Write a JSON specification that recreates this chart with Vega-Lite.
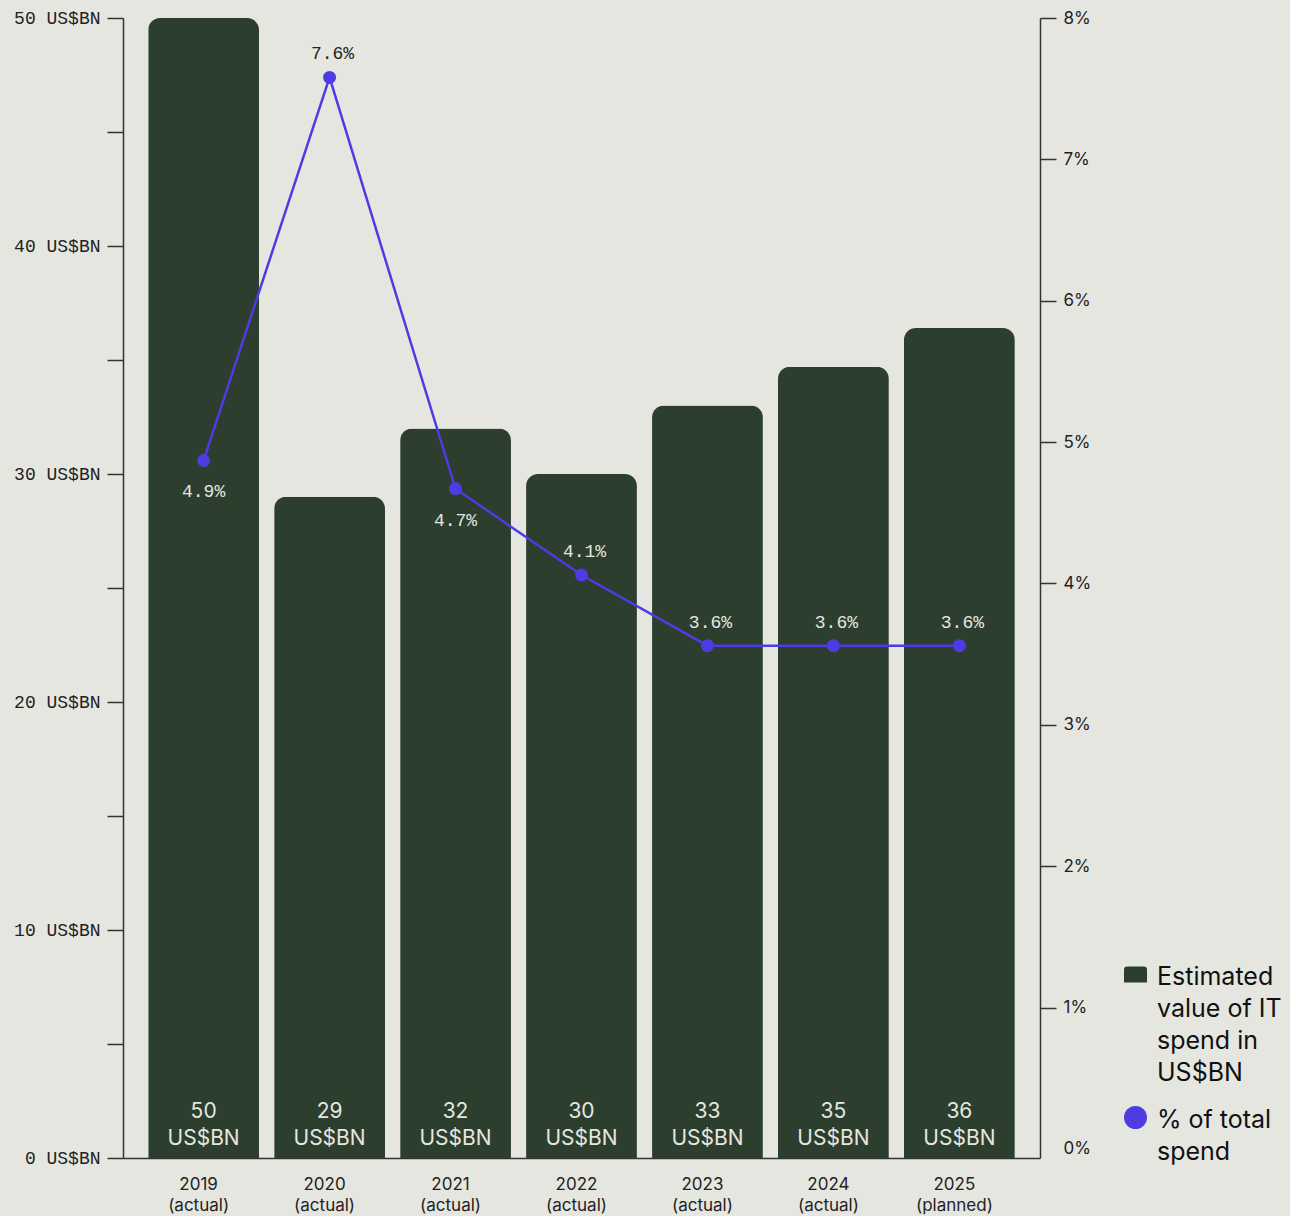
{
  "$schema": "https://vega.github.io/schema/vega-lite/v6.json",
  "width": 917,
  "height": 1140,
  "autosize": {"type": "none"},
  "padding": {"left": 123, "top": 18, "right": 250, "bottom": 58},
  "background": "#e6e6e0",
  "config": {
    "view": {"stroke": null},
    "font": "Inter",
    "axis": {"domainColor": "#333333", "tickColor": "#333333", "labelColor": "#222222", "grid": false, "domainWidth": 1.5, "tickWidth": 1.5}
  },
  "data": {
    "values": [
      {"year": "2019 (actual)", "spend": 50, "pct": 4.87},
      {"year": "2020 (actual)", "spend": 29, "pct": 7.58},
      {"year": "2021 (actual)", "spend": 32, "pct": 4.67},
      {"year": "2022 (actual)", "spend": 30, "pct": 4.06},
      {"year": "2023 (actual)", "spend": 33, "pct": 3.56},
      {"year": "2024 (actual)", "spend": 34.7, "pct": 3.56},
      {"year": "2025 (planned)", "spend": 36.4, "pct": 3.56}
    ]
  },
  "encoding": {
    "x": {
      "field": "year", "type": "nominal", "sort": null,
      "scale": {"paddingInner": 0.12, "paddingOuter": 0.2},
      "axis": {"title": null, "labelAngle": 0, "ticks": false, "labelPadding": 18, "labelFontSize": 17, "labelLineHeight": 21, "labelExpr": "split(datum.label, ' ')", "labelOffset": -5}
    }
  },
  "layer": [
    {
      "layer": [
        {
          "mark": {"type": "bar", "color": "#2c3e2d", "cornerRadiusTopLeft": 12, "cornerRadiusTopRight": 12},
          "encoding": {
            "y": {
              "field": "spend", "type": "quantitative",
              "scale": {"domain": [0, 50], "nice": false},
              "axis": {"title": null, "values": [0, 5, 10, 15, 20, 25, 30, 35, 40, 45, 50], "labelExpr": "datum.value % 10 === 0 ? datum.value + ' US$BN' : ''", "labelFont": "Liberation Mono", "labelFontSize": 18, "tickSize": 16, "labelPadding": 7}
            },
            "color": {
              "datum": "Estimated value of IT spend in US$BN", "type": "nominal",
              "scale": {"domain": ["Estimated value of IT spend in US$BN", "% of total spend"], "range": ["#2c3e2d", "#4f3be3"]},
              "legend": {
                "orient": "none", "legendX": 1000, "legendY": 944, "title": null, "padding": 0,
                "labelFontSize": 25, "labelFont": "Inter", "labelColor": "#111111", "labelLimit": 0,
                "symbolSize": 529, "labelOffset": 9, "labelBaseline": "top", "rowPadding": 19,
                "labelExpr": "datum.value == '% of total spend' ? ['% of total', 'spend'] : ['Estimated', 'value of IT', 'spend in', 'US$BN']",
                "encode": {
                  "symbols": {"update": {
                    "shape": {"signal": "datum.value == '% of total spend' ? 'circle' : 'M-1,0.7L-1,-0.42Q-1,-0.7 -0.72,-0.7L0.72,-0.7Q1,-0.7 1,-0.42L1,0.7Z'"},
                    "fill": {"scale": "color", "field": "value"},
                    "strokeWidth": {"value": 0},
                    "opacity": {"value": 1}
                  }},
                  "labels": {"update": {"lineHeight": {"value": 32}, "dy": {"value": -10}}}
                }
              }
            }
          }
        },
        {
          "mark": {"type": "text", "color": "#e6e6e0", "fontSize": 21, "baseline": "bottom", "dy": -36, "font": "Inter"},
          "encoding": {"y": {"datum": 0, "type": "quantitative"}, "text": {"field": "spend", "type": "quantitative", "format": ".0f"}}
        },
        {
          "mark": {"type": "text", "color": "#e6e6e0", "fontSize": 21, "baseline": "bottom", "dy": -9, "font": "Inter"},
          "encoding": {"y": {"datum": 0, "type": "quantitative"}, "text": {"value": "US$BN"}}
        }
      ]
    },
    {
      "transform": [{"calculate": "format(datum.pct, '.1f') + '%'", "as": "pctLabel"}],
      "encoding": {
        "y": {
          "field": "pct", "type": "quantitative",
          "scale": {"domain": [-0.064, 8], "nice": false, "zero": false},
          "axis": {"title": null, "orient": "right", "values": [0, 1, 2, 3, 4, 5, 6, 7, 8], "labelExpr": "datum.value + '%'", "labelFontSize": 17, "tickSize": 16, "labelPadding": 7, "tickOpacity": {"condition": {"test": "datum.value === 0", "value": 0}, "value": 1}}
        }
      },
      "layer": [
        {
          "mark": {"type": "line", "strokeWidth": 2.5},
          "encoding": {"color": {"datum": "% of total spend", "type": "nominal"}}
        },
        {
          "mark": {"type": "point", "filled": true, "size": 169, "opacity": 1},
          "encoding": {"color": {"datum": "% of total spend", "type": "nominal"}}
        },
        {
          "transform": [{"filter": "datum.year == '2019 (actual)' || datum.year == '2021 (actual)'"}],
          "mark": {"type": "text", "font": "Liberation Mono", "fontSize": 18, "dy": 32, "color": "#e6e6e0"},
          "encoding": {"text": {"field": "pctLabel", "type": "nominal"}}
        },
        {
          "transform": [{"filter": "datum.year != '2019 (actual)' && datum.year != '2021 (actual)'"}],
          "mark": {"type": "text", "font": "Liberation Mono", "fontSize": 18, "dy": -23, "dx": 3},
          "encoding": {
            "text": {"field": "pctLabel", "type": "nominal"},
            "color": {"condition": {"test": "datum.pct > 7", "value": "#222222"}, "value": "#e6e6e0"}
          }
        }
      ]
    }
  ],
  "resolve": {"scale": {"y": "independent"}}
}
